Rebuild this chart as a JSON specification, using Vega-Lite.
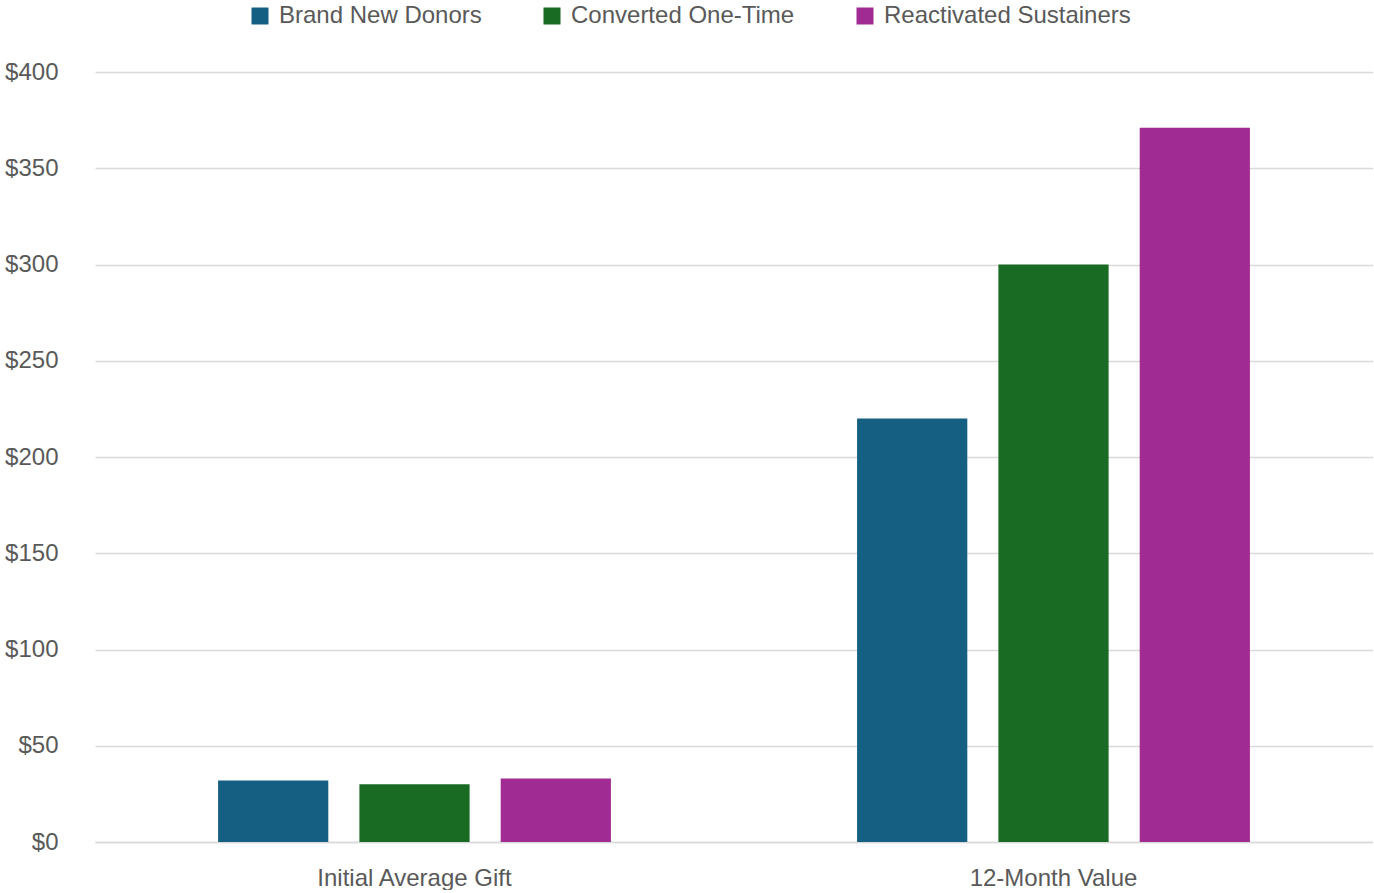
{
  "$schema": "https://vega.github.io/schema/vega-lite/v6.json",
  "width": 1278,
  "height": 770,
  "padding": {"left": 4, "top": 4, "right": 0, "bottom": 0},
  "autosize": {"type": "pad"},
  "background": "white",
  "config": {
    "view": {"stroke": null},
    "font": "Liberation Sans",
    "axis": {"labelFont": "Liberation Sans", "labelColor": "#595959", "labelFontSize": 24, "labelLimit": 0},
    "legend": {"labelFont": "Liberation Sans", "labelColor": "#595959", "labelFontSize": 24, "labelLimit": 0}
  },
  "data": {
    "values": [
      {"category": "Initial Average Gift", "group": "Brand New Donors", "value": 32},
      {"category": "Initial Average Gift", "group": "Converted One-Time", "value": 30},
      {"category": "Initial Average Gift", "group": "Reactivated Sustainers", "value": 33},
      {"category": "12-Month Value", "group": "Brand New Donors", "value": 220},
      {"category": "12-Month Value", "group": "Converted One-Time", "value": 300},
      {"category": "12-Month Value", "group": "Reactivated Sustainers", "value": 371}
    ]
  },
  "mark": {"type": "bar"},
  "encoding": {
    "x": {
      "field": "category",
      "type": "nominal",
      "sort": ["Initial Average Gift", "12-Month Value"],
      "scale": {"paddingInner": 0, "paddingOuter": 0},
      "axis": {
        "title": null,
        "labelAngle": 0,
        "ticks": false,
        "domainColor": "#d9d9d9",
        "domainWidth": 1.5,
        "labelPadding": 24
      }
    },
    "xOffset": {
      "field": "group",
      "type": "nominal",
      "sort": ["Brand New Donors", "Converted One-Time", "Reactivated Sustainers"],
      "scale": {"paddingInner": 0.22, "paddingOuter": 0.871}
    },
    "y": {
      "field": "value",
      "type": "quantitative",
      "scale": {"domain": [0, 400], "nice": false},
      "axis": {
        "title": null,
        "values": [0, 50, 100, 150, 200, 250, 300, 350, 400],
        "format": "$,.0f",
        "domain": false,
        "ticks": false,
        "labelPadding": 37,
        "gridColor": "#d9d9d9",
        "gridWidth": 1.5
      }
    },
    "color": {
      "field": "group",
      "type": "nominal",
      "sort": ["Brand New Donors", "Converted One-Time", "Reactivated Sustainers"],
      "scale": {"range": ["#156082", "#196B24", "#A02B93"]},
      "legend": {
        "title": null,
        "orient": "none",
        "direction": "horizontal",
        "legendX": 153,
        "legendY": -68,
        "symbolType": "square",
        "symbolSize": 289,
        "symbolStrokeWidth": 0,
        "labelOffset": 7,
        "columnPadding": 58
      }
    }
  }
}
